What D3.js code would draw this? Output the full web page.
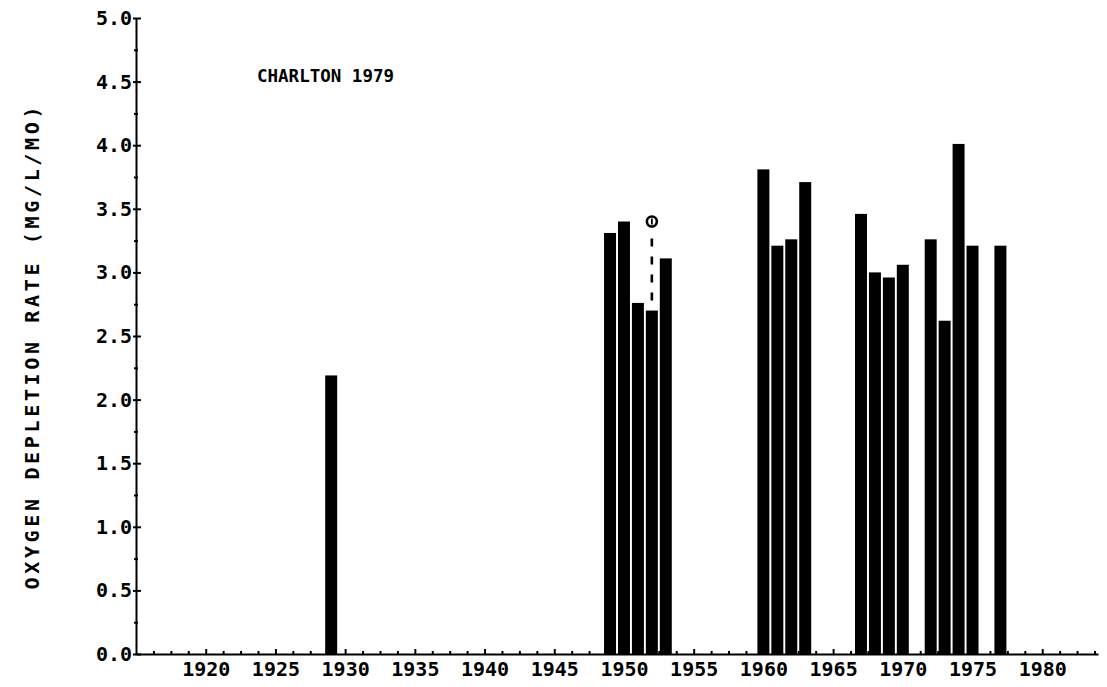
<!DOCTYPE html>
<html>
<head>
<meta charset="utf-8">
<script src="https://cdn.jsdelivr.net/npm/d3@7"></script>
<style>
  html, body { margin: 0; padding: 0; background: #fff; }
  svg { display: block; }
  text { font-family: "DejaVu Sans Mono", "Liberation Mono", monospace; fill: #000; font-weight: bold; font-variant-numeric: slashed-zero; }
</style>
</head>
<body>
<svg id="chart" width="1107" height="687"></svg>
<script>
// ---- data ----
const years  = [1929, 1949, 1950, 1951, 1952, 1953, 1960, 1961, 1962, 1963, 1967, 1968, 1969, 1970, 1972, 1973, 1974, 1975, 1977];
const values = [2.19, 3.31, 3.40, 2.76, 2.70, 3.11, 3.81, 3.21, 3.26, 3.71, 3.46, 3.00, 2.96, 3.06, 3.26, 2.62, 4.01, 3.21, 3.21];
const markerYear = [1952];
const markerValue = [3.40];
const xTickLabels = [1920, 1925, 1930, 1935, 1940, 1945, 1950, 1955, 1960, 1965, 1970, 1975, 1980];
const yTickLabels = [0.0, 0.5, 1.0, 1.5, 2.0, 2.5, 3.0, 3.5, 4.0, 4.5, 5.0];
const titleText = "CHARLTON 1979";
const yTitle = "OXYGEN DEPLETION RATE  (MG/L/MO)";

// ---- layout ----
const svg = d3.select("#chart");
const x = d3.scaleLinear().domain([1915, 1984]).range([136, 1098]);
const y = d3.scaleLinear().domain([0, 5]).range([654, 18]);

const xMinor = d3.range(1915, 1984.01, 1.25).filter(v => Math.abs(v % 5) > 1e-6);
const yMinor = d3.range(0.25, 5, 0.5);

const barW = (x(1) - x(0)) * 0.86;

// bars
svg.append("g").selectAll("rect")
  .data(years.map((yr, i) => ({ yr, v: values[i] })))
  .join("rect")
  .attr("x", d => x(d.yr) - barW / 2)
  .attr("width", barW)
  .attr("y", d => y(d.v))
  .attr("height", d => y(0) - y(d.v))
  .attr("fill", "#000");

// marker with dashed drop line
const mx = x(markerYear[0]);
const my = y(markerValue[0]);
const barTopAtMarker = y(values[years.indexOf(markerYear[0])]);
svg.append("line")
  .attr("x1", mx).attr("x2", mx)
  .attr("y1", my + 17).attr("y2", barTopAtMarker)
  .attr("stroke", "#000").attr("stroke-width", 2.6)
  .attr("stroke-dasharray", "8,10");
svg.append("circle")
  .attr("cx", mx).attr("cy", my).attr("r", 5)
  .attr("fill", "none").attr("stroke", "#000").attr("stroke-width", 2.6);
svg.append("line")
  .attr("x1", mx).attr("x2", mx)
  .attr("y1", my - 3).attr("y2", my + 3)
  .attr("stroke", "#000").attr("stroke-width", 1.8);

// x axis (ticks point up into the plot)
const gx = svg.append("g").attr("transform", `translate(0,${y(0)})`);
gx.call(d3.axisBottom(x).tickValues(xTickLabels).tickFormat(d3.format("d"))
  .tickSize(-5).tickSizeOuter(0).tickPadding(8));
svg.append("g").attr("transform", `translate(0,${y(0)})`)
  .call(d3.axisBottom(x).tickValues(xMinor).tickFormat("").tickSize(-3).tickSizeOuter(0))
  .select(".domain").remove();
gx.selectAll("text").attr("font-size", 20).attr("font-family", "DejaVu Sans Mono");

// y axis
const gy = svg.append("g").attr("transform", `translate(${x(1915)},0)`);
gy.call(d3.axisLeft(y).tickValues(yTickLabels).tickFormat(d3.format(".1f"))
  .tickSize(3).tickSizeOuter(0).tickPadding(1));
gy.selectAll("text").attr("font-size", 20).attr("font-family", "DejaVu Sans Mono");
svg.append("g").attr("transform", `translate(${x(1915)},0)`)
  .call(d3.axisRight(y).tickValues(yTickLabels).tickFormat("").tickSize(5).tickSizeOuter(0))
  .select(".domain").remove();
svg.append("g").attr("transform", `translate(${x(1915) - 2},0)`)
  .call(d3.axisRight(y).tickValues(yMinor).tickFormat("").tickSize(4).tickSizeOuter(0))
  .select(".domain").remove();

svg.selectAll(".domain, .tick line").attr("stroke", "#000").attr("stroke-width", 2);

// title
svg.append("text")
  .attr("x", 257).attr("y", 82)
  .attr("font-size", 17)
  .attr("textLength", 137).attr("lengthAdjust", "spacingAndGlyphs")
  .text(titleText);

// y title
svg.append("text")
  .attr("transform", `translate(39,348) rotate(-90)`)
  .attr("text-anchor", "middle")
  .attr("font-size", 20)
  .attr("textLength", 483).attr("lengthAdjust", "spacing")
  .text(yTitle);
</script>
</body>
</html>
